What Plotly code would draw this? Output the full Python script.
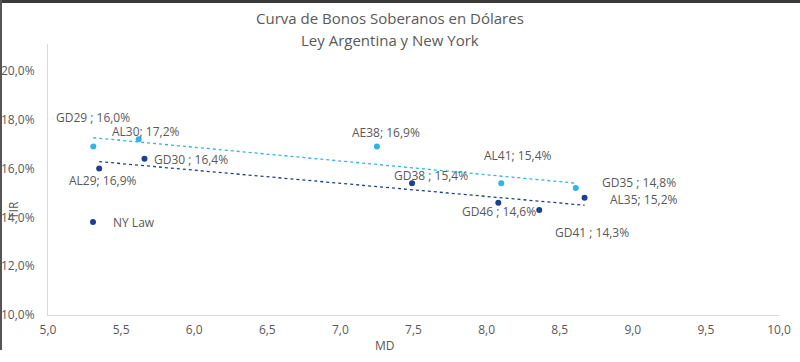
import numpy as np
import plotly.graph_objects as go

# Argentina law series (light blue)
arg_md = [5.31, 5.62, 7.25, 8.10, 8.61]
arg_tir = [16.9, 17.2, 16.9, 15.4, 15.2]
arg_labels = ["GD29 ; 16,0%", "AL30; 17,2%", "AE38; 16,9%", "AL41; 15,4%", "GD35 ; 14,8%"]
arg_shift = [(0, 29), (7, 8), (9, 14), (17, 28), (63, 6)]

# New York law series (dark blue)
ny_md = [5.35, 5.66, 7.49, 8.08, 8.36, 8.67]
ny_tir = [16.0, 16.4, 15.4, 14.6, 14.3, 14.8]
ny_labels = ["AL29; 16,9%", "GD30 ; 16,4%", "GD38 ; 15,4%", "GD46 ; 14,6%", "GD41 ; 14,3%", "AL35; 15,2%"]
ny_shift = [(4, -12), (47, -1), (19, 8), (1, -9), (53, -22), (59, -2)]

x_ticks = [5.0, 5.5, 6.0, 6.5, 7.0, 7.5, 8.0, 8.5, 9.0, 9.5, 10.0]
y_ticks = [10, 12, 14, 16, 18, 20]

LIGHT = "#2EB4E6"
DARK = "#1D3F8F"
GRAY = "#595959"
FONT = "Open Sans"

L, R, T, B = 48, 21, 44, 47
PW, PH = 800 - L - R, 362 - T - B


def px_x(p):
    return (p - L) / PW


def px_y(p):
    return (362 - B - p) / PH


fig = go.Figure()


def trend(xs, ys):
    k, b = np.polyfit(xs, ys, 1)
    xx = [min(xs), max(xs)]
    return xx, [k * v + b for v in xx]


tx, ty = trend(arg_md, arg_tir)
fig.add_trace(go.Scatter(x=tx, y=ty, mode="lines", line=dict(color=LIGHT, width=1.3, dash="dot"),
                         showlegend=False, hoverinfo="skip"))
tx, ty = trend(ny_md, ny_tir)
fig.add_trace(go.Scatter(x=tx, y=ty, mode="lines", line=dict(color=DARK, width=1.3, dash="dot"),
                         showlegend=False, hoverinfo="skip"))

fig.add_trace(go.Scatter(x=arg_md, y=arg_tir, mode="markers", name="Ley Argentina",
                         marker=dict(color=LIGHT, size=6), showlegend=False))
fig.add_trace(go.Scatter(x=ny_md, y=ny_tir, mode="markers", name="NY Law",
                         marker=dict(color=DARK, size=6), showlegend=True))

annotations = []
for xs, ys, labs, shifts in [(arg_md, arg_tir, arg_labels, arg_shift), (ny_md, ny_tir, ny_labels, ny_shift)]:
    for x, y, t, (dx, dy) in zip(xs, ys, labs, shifts):
        annotations.append(dict(x=x, y=y, text=t, showarrow=False, xshift=dx, yshift=dy,
                                xanchor="center", yanchor="middle",
                                font=dict(family=FONT, size=12, color=GRAY)))


def paper_text(x, y, text, size, angle=0):
    return dict(xref="paper", yref="paper", x=px_x(x), y=px_y(y), text=text, textangle=angle,
                xanchor="center", yanchor="middle", showarrow=False,
                font=dict(family=FONT, size=size, color=GRAY))


annotations.append(paper_text(390, 18, "Curva de Bonos Soberanos en Dólares", 15))
annotations.append(paper_text(390, 40, "Ley Argentina y New York", 15))
annotations.append(paper_text(385, 345, "MD", 12))
annotations.append(paper_text(14, 210, "TIR", 12, -90))

fig.update_layout(
    width=800, height=362,
    margin=dict(l=L, r=R, t=T, b=B),
    paper_bgcolor="white", plot_bgcolor="white",
    font=dict(family=FONT, color=GRAY),
    legend=dict(x=px_x(73), y=px_y(222), xanchor="left", yanchor="middle", bgcolor="rgba(0,0,0,0)",
                itemwidth=30, font=dict(family=FONT, size=12, color=GRAY)),
    annotations=annotations,
    xaxis=dict(range=[5, 10], tickvals=x_ticks, ticktext=[f"{v:.1f}".replace(".", ",") for v in x_ticks],
               showgrid=False, zeroline=False, automargin=False,
               showline=True, linecolor="#D9D9D9", linewidth=1, ticks="",
               tickfont=dict(family=FONT, size=12, color=GRAY), ticklabelstandoff=4),
    yaxis=dict(range=[10, 21.1], tickvals=y_ticks,
               ticktext=[f"{v:.1f}%".replace(".", ",") for v in y_ticks],
               showgrid=False, zeroline=False, automargin=False,
               showline=True, linecolor="#D9D9D9", linewidth=1,
               ticks="", tickfont=dict(family=FONT, size=12, color=GRAY), ticklabelstandoff=10),
    shapes=[
        dict(type="line", xref="paper", yref="paper", x0=px_x(0), x1=px_x(800),
             y0=px_y(1.5), y1=px_y(1.5), line=dict(color="#3A3A3A", width=3)),
        dict(type="line", xref="paper", yref="paper", x0=px_x(1), x1=px_x(1),
             y0=px_y(350), y1=px_y(0), line=dict(color="#555555", width=2)),
    ],
)

fig.write_html("out.html", config={"displayModeBar": False},
               post_script="document.body.style.margin='0';document.body.style.overflow='hidden';")
